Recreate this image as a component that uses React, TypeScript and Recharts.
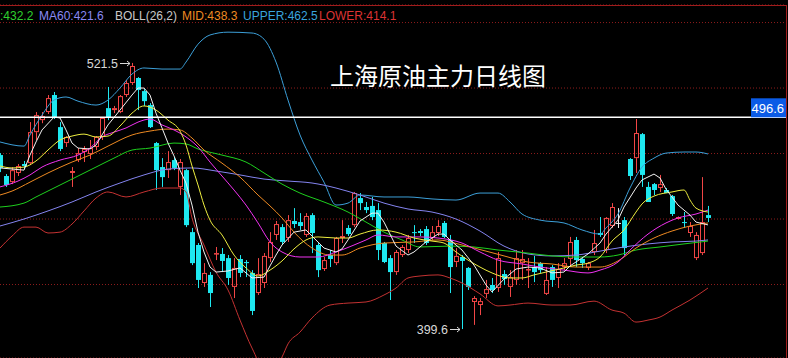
import React from 'react';
import { ComposedChart, Bar, Line, XAxis, YAxis, CartesianGrid, ReferenceLine, ReferenceDot } from 'recharts';

// ---- candle data (prices) ----
const openP = [
  479.3, 469.7, 466.9, 471.1, 475.2, 475.6, 489.8, 495.3, 499.0, 506.8,
  492.1, 484.8, 471.1, 477.0, 480.7, 479.8, 483.0, 487.6, 500.8, 499.9,
  499.0, 506.8, 512.3, 514.6, 508.6, 502.2, 484.8, 473.8, 472.4, 477.0,
  464.7, 472.4, 444.0, 438.1, 420.7, 424.4, 434.0, 434.0, 432.1, 418.9,
  431.7, 430.3, 425.3, 416.1, 420.7, 432.1, 442.7, 446.3, 441.3, 449.1,
  448.6, 442.7, 451.8, 438.1, 427.1, 433.5, 429.8, 441.3, 445.9, 447.2,
  459.6, 455.5, 456.0, 454.1, 439.0, 432.1, 425.7, 433.5, 435.8, 444.0,
  444.5, 445.4, 441.3, 443.6, 448.2, 440.4, 430.3, 432.6, 427.6, 412.0,
  410.6, 415.7, 419.8, 418.4, 424.8, 418.9, 422.1, 429.8, 426.6, 428.0,
  429.8, 415.7, 428.0, 423.0, 428.0, 431.7, 440.4, 431.7, 427.6, 434.9,
  443.6, 435.8, 446.8, 448.2, 449.5, 477.5, 477.9, 488.9, 464.7, 466.0,
  464.2, 463.3, 460.5, 450.0, 448.6, 443.6, 432.1, 434.4, 451.8,
];
const highP = [
  480.2, 470.6, 473.8, 475.2, 476.6, 494.4, 499.0, 499.0, 506.8, 508.2,
  494.4, 488.0, 473.8, 482.5, 483.4, 486.2, 488.0, 496.7, 510.5, 501.8,
  506.8, 513.7, 521.5, 515.0, 509.5, 503.1, 485.3, 477.9, 481.1, 478.4,
  477.5, 472.9, 445.9, 439.0, 429.8, 425.7, 437.2, 436.7, 433.5, 432.1,
  433.5, 431.2, 426.6, 432.1, 434.4, 444.0, 449.1, 447.7, 451.8, 455.0,
  452.7, 452.7, 452.7, 439.0, 432.6, 435.8, 441.8, 449.5, 447.2, 462.4,
  461.9, 457.8, 460.1, 457.3, 439.5, 433.5, 435.8, 438.1, 442.7, 447.2,
  445.4, 446.8, 446.8, 449.5, 449.1, 442.7, 436.7, 433.5, 428.0, 414.7,
  413.8, 422.1, 423.0, 434.9, 426.6, 426.6, 435.8, 435.8, 432.1, 433.1,
  430.3, 428.0, 428.9, 429.8, 432.1, 441.8, 441.8, 432.1, 430.3, 445.0,
  450.9, 450.9, 457.3, 455.0, 450.9, 477.9, 495.8, 489.4, 467.0, 466.5,
  470.2, 464.2, 461.0, 451.2, 453.2, 448.6, 444.0, 469.2, 456.0,
];
const lowP = [
  471.5, 464.7, 466.0, 469.7, 472.9, 474.7, 486.2, 493.9, 498.1, 495.8,
  481.1, 483.0, 464.7, 476.1, 476.1, 477.5, 481.6, 486.2, 495.3, 498.5,
  498.5, 505.9, 511.4, 499.9, 501.8, 491.7, 463.3, 464.7, 468.8, 472.4,
  461.0, 446.3, 428.9, 418.4, 418.9, 409.7, 431.2, 425.7, 419.8, 413.8,
  423.4, 423.4, 406.0, 415.2, 418.4, 430.3, 440.4, 438.1, 439.5, 445.9,
  445.0, 441.8, 434.4, 423.4, 426.2, 428.0, 428.9, 439.0, 442.2, 446.3,
  454.1, 452.7, 449.5, 431.2, 429.8, 412.9, 424.4, 432.6, 434.4, 439.0,
  442.2, 438.1, 440.4, 442.2, 441.3, 416.1, 428.0, 399.6, 417.5, 401.5,
  406.0, 413.8, 416.1, 416.6, 419.8, 414.3, 419.8, 422.1, 418.4, 421.1,
  425.3, 415.2, 418.9, 418.4, 426.6, 428.0, 428.0, 427.6, 426.6, 433.5,
  441.8, 434.4, 445.9, 445.9, 433.5, 467.9, 471.1, 464.7, 457.8, 461.0,
  462.4, 461.9, 451.4, 449.8, 445.9, 441.8, 431.2, 433.5, 448.6,
];
const closeP = [
  473.4, 465.6, 472.4, 474.3, 474.3, 489.8, 497.6, 497.2, 505.4, 496.7,
  482.1, 487.6, 472.0, 480.2, 482.1, 482.5, 487.6, 496.3, 496.3, 500.8,
  506.3, 512.3, 520.1, 509.1, 504.0, 492.1, 472.4, 469.2, 476.1, 473.4,
  476.1, 447.2, 429.8, 422.1, 425.3, 416.1, 434.4, 430.8, 423.0, 427.6,
  425.3, 429.8, 407.9, 424.8, 433.1, 439.5, 447.7, 439.5, 449.5, 447.7,
  446.8, 451.4, 443.6, 426.6, 431.2, 431.7, 441.3, 442.2, 443.1, 461.9,
  457.3, 454.1, 450.9, 435.8, 430.3, 425.7, 434.9, 437.2, 441.3, 443.6,
  443.6, 439.0, 444.0, 446.8, 441.8, 428.0, 433.1, 430.8, 418.9, 413.8,
  412.4, 417.9, 417.5, 432.1, 422.5, 423.4, 432.1, 431.7, 427.1, 425.7,
  426.6, 422.1, 422.1, 427.1, 429.8, 439.5, 431.2, 429.8, 429.8, 439.0,
  442.7, 450.5, 455.5, 448.2, 436.7, 469.7, 489.4, 470.2, 457.8, 463.3,
  466.0, 461.9, 452.3, 450.9, 448.2, 446.8, 442.7, 448.6, 450.5,
];

// ---- indicator lines, read at sampled bars: [bar index, price] ----
const upperPts = [
  [0, 485.3], [4, 483.4], [5, 488.5], [7, 497.6], [9, 504.5], [11, 505.9], [13, 504.0], [16, 502.2],
  [18, 504.5], [20, 510.0], [22, 516.4], [24, 519.2], [27, 518.7], [30, 518.7], [31, 521.9], [33, 530.1],
  [35, 534.3], [38, 535.6], [42, 535.2], [44, 532.4], [46, 521.9], [48, 504.5], [50, 488.5], [52, 477.0],
  [54, 466.9], [56, 456.4], [58, 457.3], [60, 461.0], [64, 460.1], [68, 460.1], [72, 459.2], [76, 458.7],
  [80, 461.9], [83, 461.9], [85, 457.8], [87, 452.3], [90, 449.5], [94, 448.2], [97, 445.0], [100, 443.1],
  [101, 445.9], [103, 452.3], [105, 464.2], [107, 473.8], [109, 477.9], [111, 480.2], [114, 480.7],
  [116, 480.7], [118, 479.8],
];
const lowerPts = [
  [0, 436.7], [2, 442.2], [4, 446.3], [6, 446.3], [8, 443.6], [10, 444.0], [12, 447.7], [14, 453.7],
  [16, 459.6], [18, 462.4], [21, 460.1], [24, 462.4], [27, 464.2], [30, 464.2], [31, 462.4], [32, 450.5],
  [34, 438.1], [36, 425.7], [38, 417.5], [40, 403.7], [42, 390.9], [44, 381.8], [46, 382.7], [47, 386.8],
  [48, 392.8], [50, 398.2], [52, 404.7], [55, 410.6], [58, 411.5], [61, 412.0], [64, 415.2], [66, 418.4],
  [68, 423.0], [70, 423.9], [73, 424.4], [75, 423.0], [77, 420.7], [80, 415.7], [83, 410.2], [85, 410.6],
  [88, 411.5], [92, 410.6], [95, 410.6], [99, 412.4], [102, 408.3], [104, 406.9], [106, 402.8],
  [108, 403.7], [110, 405.1], [112, 408.3], [115, 412.9], [118, 418.4],
];
const ma60Pts = [
  [0, 446.8], [4, 450.0], [8, 453.7], [12, 457.8], [16, 462.4], [20, 466.5], [24, 470.2], [28, 472.9],
  [32, 473.4], [36, 472.0], [40, 470.2], [44, 468.3], [48, 467.4], [52, 466.5], [56, 464.2], [60, 461.0],
  [64, 457.3], [68, 454.6], [72, 453.2], [76, 450.0], [80, 444.5], [84, 437.6], [88, 434.0], [92, 433.1],
  [96, 433.5], [100, 435.3], [104, 437.2], [108, 438.6], [112, 439.5], [116, 439.9], [118, 440.4],
];
const greenPts = [
  [0, 455.5], [4, 457.3], [6, 460.1], [9, 464.2], [12, 468.3], [16, 473.8], [19, 477.9], [22, 481.6],
  [25, 482.5], [29, 484.8], [31, 484.4], [33, 482.1], [37, 479.3], [41, 476.1], [44, 471.1], [47, 466.0],
  [50, 461.9], [54, 457.8], [58, 453.2], [61, 448.6], [64, 444.0], [67, 440.4], [70, 437.2], [75, 437.6],
  [79, 437.2], [83, 435.8], [88, 434.4], [92, 433.1], [96, 432.6], [100, 432.6], [103, 433.5], [106, 435.8],
  [110, 437.2], [114, 438.6], [118, 439.9],
];
const midPts = [
  [0, 461.0], [2, 462.8], [5, 466.9], [8, 471.1], [12, 476.1], [15, 479.3], [18, 483.4], [22, 488.5],
  [25, 490.3], [28, 491.2], [30, 490.8], [32, 487.1], [34, 481.6], [37, 475.6], [40, 469.2], [43, 461.0],
  [45, 456.0], [47, 450.5], [49, 444.0], [52, 436.7], [55, 433.5], [57, 433.5], [60, 436.7], [64, 439.0],
  [69, 439.5], [73, 440.4], [77, 438.1], [81, 435.3], [84, 433.1], [88, 430.3], [92, 429.4], [96, 428.0],
  [100, 428.0], [103, 430.8], [106, 436.7], [109, 441.3], [112, 444.5], [115, 446.8], [118, 448.2],
];
const ma20Pts = [
  [0, 464.7], [3, 467.4], [5, 470.2], [7, 473.8], [10, 477.0], [13, 479.3], [15, 482.5], [17, 487.6],
  [19, 489.8], [21, 491.7], [23, 494.4], [25, 495.8], [27, 493.1], [29, 490.8], [31, 487.6], [33, 483.0],
  [35, 476.1], [37, 469.7], [39, 463.3], [41, 456.4], [43, 448.2], [45, 439.5], [47, 434.9], [50, 432.6],
  [53, 432.6], [56, 434.9], [59, 438.1], [61, 440.4], [63, 442.7], [66, 441.8], [70, 441.8], [73, 441.3],
  [77, 439.0], [80, 434.9], [83, 431.2], [87, 429.4], [90, 428.0], [94, 426.6], [98, 425.3], [100, 426.6],
  [103, 430.3], [105, 435.8], [108, 443.1], [111, 448.2], [113, 450.5], [116, 452.3], [118, 454.1],
];
const ma10Pts = [
  [0, 474.3], [2, 473.4], [4, 473.8], [6, 476.6], [8, 481.6], [10, 486.2], [12, 488.0], [14, 488.9],
  [16, 487.6], [18, 488.0], [20, 492.6], [22, 498.5], [24, 501.8], [26, 499.9], [28, 495.3], [30, 490.3],
  [31, 483.9], [32, 474.3], [33, 465.6], [34, 456.4], [35, 449.5], [37, 442.7], [39, 433.5], [41, 427.6],
  [43, 423.9], [45, 426.6], [47, 430.8], [49, 436.3], [51, 440.4], [53, 441.8], [56, 441.3], [58, 441.3],
  [60, 443.1], [63, 445.0], [66, 444.0], [69, 441.3], [72, 439.9], [74, 439.0], [76, 434.9], [78, 431.2],
  [80, 428.0], [82, 425.3], [85, 423.0], [87, 423.0], [89, 424.4], [91, 425.7], [94, 427.6], [96, 428.9],
  [98, 429.8], [100, 432.6], [102, 439.9], [104, 445.0], [106, 453.2], [107, 456.9], [109, 460.5],
  [112, 462.4], [114, 463.3], [115, 458.7], [116, 455.0], [118, 453.2],
];
const ma5Pts = [
  [0, 473.4], [2, 472.9], [4, 472.4], [5, 479.3], [6, 485.3], [7, 490.8], [9, 496.7], [10, 496.3],
  [11, 490.8], [12, 484.8], [13, 482.5], [15, 482.1], [16, 483.9], [17, 488.5], [18, 493.1], [20, 499.9],
  [22, 506.8], [23, 510.0], [24, 510.0], [25, 506.8], [26, 498.5], [27, 491.7], [28, 484.8], [29, 478.9],
  [30, 472.4], [31, 466.5], [32, 456.4], [33, 444.0], [34, 434.9], [35, 428.0], [36, 425.7], [38, 426.2],
  [40, 427.6], [42, 423.0], [44, 423.4], [45, 428.5], [46, 433.5], [47, 438.1], [49, 444.0], [51, 445.0],
  [52, 442.2], [54, 436.7], [56, 434.9], [57, 436.3], [58, 440.4], [60, 449.1], [62, 452.7], [63, 452.7],
  [64, 448.6], [66, 437.6], [68, 433.5], [69, 434.9], [71, 439.5], [73, 443.1], [74, 443.1], [75, 440.4],
  [77, 435.8], [79, 428.9], [81, 419.8], [82, 416.6], [84, 422.5], [86, 427.1], [88, 428.0], [90, 427.6],
  [92, 425.3], [94, 425.7], [95, 428.5], [98, 434.0], [100, 439.0], [101, 443.1], [103, 449.5],
  [104, 455.5], [106, 464.2], [107, 467.9], [109, 470.6], [110, 468.8], [111, 463.7], [113, 456.4],
  [115, 451.8], [116, 448.6], [118, 447.3],
];

const gridPrices = [390, 420, 450, 480, 510, 540];
const priceDomain = [386.34, 548.04];
const lastMark = 496.6;
const peakBar = 22;
const peakPrice = 521.5;
const troughBar = 77;
const troughPrice = 399.6;
const slotCount = 131;

const legendItems = [
  { text: ':432.2', color: '#2fd02f', x: 0 },
  { text: 'MA60:421.6', color: '#8a8af5', x: 39 },
  { text: 'BOLL(26,2)', color: '#c8c8c8', x: 115 },
  { text: 'MID:438.3', color: '#ee8a22', x: 182 },
  { text: 'UPPER:462.5', color: '#3aa4de', x: 243 },
  { text: 'LOWER:414.1', color: '#dd3333', x: 319 },
];

const RED = '#f24646';
const CYAN = '#1ee8f0';
const WHITE = '#f0f0f0';

const rows: any[] = Array.from({ length: slotCount }, (_, i) => {
  const r: any = { idx: i };
  if (i < openP.length) {
    r.open = openP[i];
    r.high = highP[i];
    r.low = lowP[i];
    r.close = closeP[i];
    r.range = [lowP[i], highP[i]];
  }
  return r;
});
const addLine = (key: string, pts: number[][]) => {
  pts.forEach(([i, v]) => {
    rows[i][key] = v;
  });
};
addLine('upper', upperPts);
addLine('lower', lowerPts);
addLine('ma60', ma60Pts);
addLine('green', greenPts);
addLine('mid', midPts);
addLine('ma20', ma20Pts);
addLine('ma10', ma10Pts);
addLine('ma5', ma5Pts);

const Candle = (props: any) => {
  const { x, y, width, height, payload } = props;
  if (!payload || payload.open == null || x == null) return <g />;
  const { open, close, high, low } = payload;
  const top = Math.min(y, y + height);
  const h = Math.abs(height);
  const py = (v: number) => top + ((high - v) / (high - low)) * h;
  const cx = Math.round(x + width / 2);
  const wx = cx + 0.5;
  const bTop = py(Math.max(open, close));
  const bBot = py(Math.min(open, close));
  const color = close > open ? RED : close < open ? CYAN : WHITE;
  if (close > open) {
    return (
      <g>
        <line x1={wx} x2={wx} y1={top} y2={bTop} stroke={color} strokeWidth={1} />
        <line x1={wx} x2={wx} y1={bBot} y2={top + h} stroke={color} strokeWidth={1} />
        <rect x={cx - 1.5} y={bTop + 0.5} width={4} height={Math.max(bBot - bTop - 1, 0.5)} fill="none" stroke={color} strokeWidth={1} />
      </g>
    );
  }
  if (close < open) {
    return (
      <g>
        <line x1={wx} x2={wx} y1={top} y2={top + h} stroke={color} strokeWidth={1} />
        <rect x={cx - 2} y={bTop} width={5} height={Math.max(bBot - bTop, 1)} fill={color} />
      </g>
    );
  }
  return (
    <g>
      <line x1={wx} x2={wx} y1={top} y2={top + h} stroke={color} strokeWidth={1} />
      <line x1={cx - 2} x2={cx + 3} y1={bTop + 0.5} y2={bTop + 0.5} stroke={color} strokeWidth={1} />
    </g>
  );
};

const markShape = (label: string) => (props: any) => {
  const { cx, cy } = props;
  if (cx == null || cy == null) return <g />;
  const ay = Math.round(cy) + 0.5;
  return (
    <g>
      <text x={cx - 14} y={cy + 5} textAnchor="end" fill="#d8d8d8" fontSize={12.5} fontFamily="'Liberation Sans', Arial, sans-serif">
        {label}
      </text>
      <line x1={cx - 12} x2={cx - 2} y1={ay} y2={ay} stroke="#d8d8d8" strokeWidth={1} />
      <polyline points={`${cx - 5},${ay - 2.5} ${cx - 2},${ay} ${cx - 5},${ay + 2.5}`} fill="none" stroke="#d8d8d8" strokeWidth={1} />
    </g>
  );
};

const lastLabel = (props: any) => {
  const vb = props.viewBox || {};
  const right = (vb.x || 0) + (vb.width || 0);
  const y = vb.y || 0;
  return (
    <g>
      <rect x={right - 35} y={y - 19} width={35} height={19} fill="#0b5be6" />
      <text x={right - 2} y={y - 4.5} textAnchor="end" fill="#ffffff" fontSize={13} fontFamily="'Liberation Sans', Arial, sans-serif">
        {lastMark.toFixed(1)}
      </text>
    </g>
  );
};

const lineCommon = { dot: false, isAnimationActive: false, connectNulls: true, activeDot: false } as any;

export default function App() {
  return (
    <div style={{ position: 'absolute', left: 0, top: 0, width: 788, height: 358, background: '#000', overflow: 'hidden' }}>
      <ComposedChart width={788} height={358} data={rows} margin={{ top: 5, right: 2, bottom: 0, left: 0 }} barCategoryGap={0}>
        <CartesianGrid vertical={false} stroke="#8e1c1c" strokeDasharray="1 2" />
        <XAxis dataKey="idx" type="category" hide padding={{ left: -3, right: 3 }} />
        <YAxis type="number" domain={priceDomain} allowDataOverflow hide ticks={gridPrices} />
        <Bar dataKey="range" shape={Candle} isAnimationActive={false} />
        <Line dataKey="upper" stroke="#3c9fd8" strokeWidth={1} type="monotone" {...lineCommon} />
        <Line dataKey="lower" stroke="#c43232" strokeWidth={1} type="monotone" {...lineCommon} />
        <Line dataKey="ma60" stroke="#8484f0" strokeWidth={1} type="monotone" {...lineCommon} />
        <Line dataKey="green" stroke="#1ed01e" strokeWidth={1} type="monotone" {...lineCommon} />
        <Line dataKey="mid" stroke="#ee8a22" strokeWidth={1} type="monotone" {...lineCommon} />
        <Line dataKey="ma20" stroke="#f032f0" strokeWidth={1} type="monotone" {...lineCommon} />
        <Line dataKey="ma10" stroke="#eeee40" strokeWidth={1} type="monotone" {...lineCommon} />
        <Line dataKey="ma5" stroke="#f2f2f2" strokeWidth={1} type="linear" {...lineCommon} />
        <ReferenceLine y={lastMark} stroke="#ffffff" strokeWidth={1.5} label={lastLabel} />
        <ReferenceDot x={peakBar} y={peakPrice} r={0} shape={markShape(peakPrice.toFixed(1))} />
        <ReferenceDot x={troughBar} y={troughPrice} r={0} shape={markShape(troughPrice.toFixed(1))} />
      </ComposedChart>
      <svg width={788} height={358} style={{ position: 'absolute', left: 0, top: 0, pointerEvents: 'none' }}>
        <line x1={0} x2={786} y1={5.5} y2={5.5} stroke="#a01c1c" strokeWidth={1} />
        <line x1={786.5} x2={786.5} y1={5} y2={358} stroke="#a01c1c" strokeWidth={1} />
        {legendItems.map((it) => (
          <text key={it.text} x={it.x} y={20} fill={it.color} fontSize={12} fontFamily="'Liberation Sans', Arial, sans-serif">
            {it.text}
          </text>
        ))}
        <text x={330} y={85} fill="#ffffff" fontSize={24} fontFamily="'Noto Sans CJK SC', sans-serif">
          上海原油主力日线图
        </text>
      </svg>
    </div>
  );
}
